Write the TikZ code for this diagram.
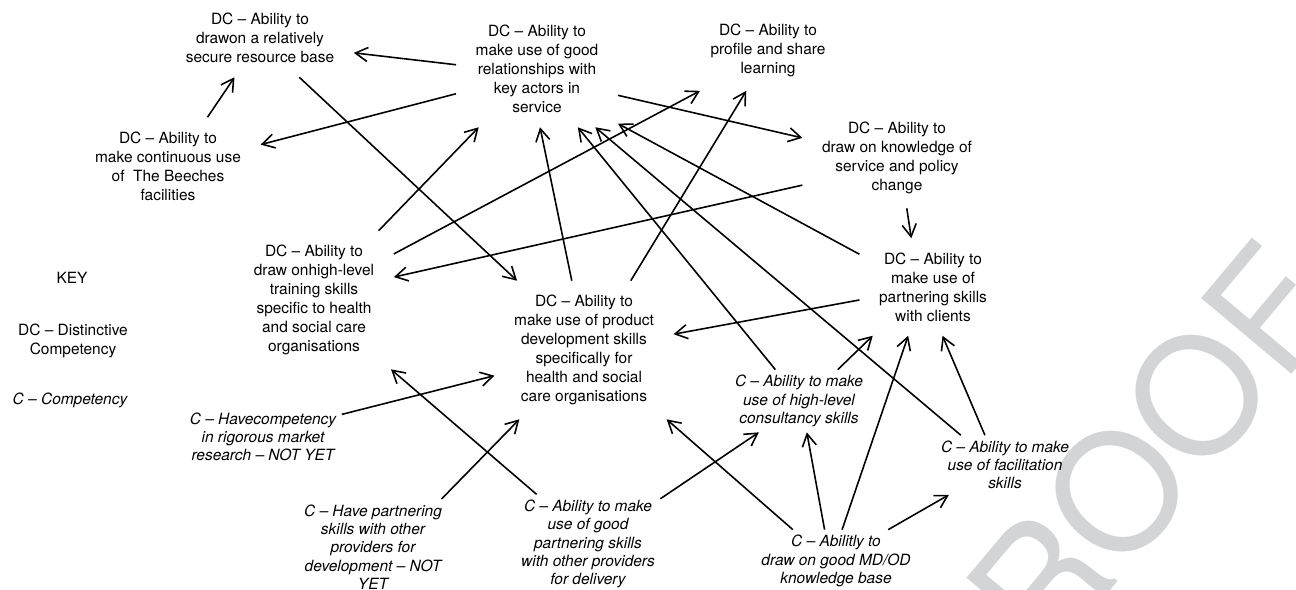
\documentclass[tikz,border=0pt]{standalone}
\usepackage{fontspec}
\setmainfont{TeX Gyre Heros}
\usetikzlibrary{arrows.meta}
\definecolor{proofgray}{RGB}{211,212,214}
\tikzset{dc/.style={align=center,inner xsep=11pt,inner ysep=8pt,font=\fontsize{8.8}{10.8}\selectfont},
  comp/.style={align=center,inner sep=3pt,font=\fontsize{8.8}{10.4}\selectfont\itshape},
  keytext/.style={align=center,inner sep=0pt,font=\fontsize{8.8}{10.8}\selectfont},
  arr/.style={-{Straight Barb[length=7pt,width=8pt]},line width=0.9pt}}

\begin{document}
\begin{tikzpicture}[x=0.2mm,y=-0.2mm]
      \useasboundingbox (0,0) rectangle (1296,590);
      \node[text=proofgray,rotate=50,inner sep=0pt,font=\fontsize{92}{92}\selectfont] (proof) at (1117,491) {PROOF};

      \node[dc] (res) at (260,38) {DC – Ability to\\drawon a relatively\\secure resource base};
      \node[dc] (rel) at (537,69) {DC – Ability to\\make use of good\\relationships with\\key actors in\\service};
      \node[dc] (prof) at (768,50) {DC – Ability to\\profile and share\\learning};
      \node[dc] (cont) at (168,166) {DC – Ability to\\make continuous use\\of \ The Beeches\\facilities};
      \node[dc] (know) at (897,158) {DC – Ability to\\draw on knowledge of\\service and policy\\change};
      \node[dc] (part) at (933,287) {DC – Ability to\\make use of\\partnering skills\\with clients};
      \node[dc] (train) at (314,300) {DC – Ability to\\draw onhigh-level\\training skills\\specific to health\\and social care\\organisations};
      \node[dc] (prod) at (584,350) {DC – Ability to\\make use of product\\development skills\\specifically for\\health and social\\care organisations};
      \node[comp] (mkt) at (263,437) {C – Havecompetency\\in rigorous market\\research – NOT YET};
      \node[comp] (partoth) at (373,547) {C – Have partnering\\skills with other\\providers for\\development – NOT\\YET};
      \node[comp] (deliv) at (588,544) {C – Ability to make\\use of good\\partnering skills\\with other providers\\for delivery};
      \node[comp] (cons) at (799,401) {C – Ability to make\\use of high-level\\consultancy skills};
      \node[comp] (facil) at (1005,465) {C – Ability to make\\use of facilitation\\skills};
      \node[comp] (mdod) at (836,561) {C – Abilitly to\\draw on good MD/OD\\knowledge base};

      \node[keytext] (key) at (72,278) {KEY};
      \node[keytext] (keydc) at (73,341) {DC – Distinctive\\Competency};
      \node[keytext,font=\fontsize{8.8}{10.8}\selectfont\itshape] (keyc) at (70,400) {C – Competency};

\foreach \s/\p/\t/\q in {cont/51/res/237, rel/177/res/351, rel/197/cont/13, res/315/prod/134,
    train/47/rel/225, train/30/prof/211, know/196/train/16, rel/342/know/168,
    prod/100/rel/273, prod/56/prof/242, cons/127/rel/305, facil/146/rel/315,
    part/156/rel/326, part/190/prod/10, know/281/part/114, cons/39/part/219,
    mdod/79/part/243, facil/124/part/281, mdod/110/cons/284, mdod/31/facil/208,
    mdod/144/prod/320, deliv/32/cons/218, deliv/136/train/318, partoth/35/prod/227,
    mkt/16/prod/196}
  \draw[arr] (\s.\p) -- (\t.\q);
    \end{tikzpicture}
\end{document}
